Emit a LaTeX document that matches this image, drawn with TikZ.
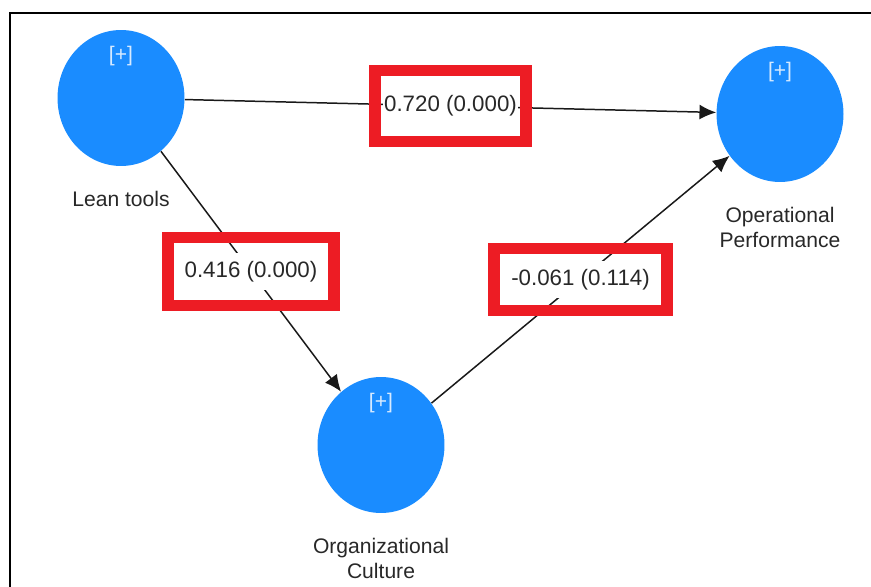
\documentclass[tikz,border=0pt]{standalone}
\usepackage{fontspec}
\setmainfont{Liberation Sans}
\usepackage{tikz}
\usetikzlibrary{shapes}
\usetikzlibrary{arrows.meta}
\usetikzlibrary{positioning}
\definecolor{lvblue}{RGB}{26,140,255}
\definecolor{boxred}{RGB}{237,28,36}
\definecolor{txtgray}{RGB}{40,40,40}
\tikzstyle{lv}=[ellipse,fill=lvblue,minimum width=2.54cm,minimum height=2.72cm,inner sep=0pt]
\tikzstyle{plus}=[text=white!82!lvblue,font=\fontsize{12}{14}\selectfont,inner sep=0pt]
\tikzstyle{lvname}=[text=txtgray,font=\fontsize{12}{14.2}\selectfont,align=center,inner sep=0pt]
\tikzstyle{coef}=[fill=white,text=txtgray,font=\fontsize{12.7}{15}\selectfont,inner xsep=0.5pt,inner ysep=4.5pt]
\tikzstyle{redbox}=[draw=boxred,line width=6.5pt,inner sep=0pt]
\tikzstyle{link}=[draw=black!90,line width=0.85pt,-{Latex[length=9.5pt,width=8.5pt]}]

\begin{document}
\begin{tikzpicture}[x=0.02cm,y=-0.02cm]
\useasboundingbox (0,0) rectangle (871,587);

%frame
\draw[line width=1.4pt] (871,13) -- (10,13) -- (10,587);

%latent variables
\node[lv] (lt) at (121,98) {};
\node[lv] (op) at (780,114) {};
\node[lv] (oc) at (381,445) {};

%[+] marks
\node[plus, below=9.5pt of lt.north] (ltplus) {[+]};
\node[plus, below=9.5pt of op.north] (opplus) {[+]};
\node[plus, below=9.5pt of oc.north] (ocplus) {[+]};

%names
\node[lvname, below=14pt of lt] (ltname) {Lean tools};
\node[lvname, below=14pt of op] (opname) {Operational\\Performance};
\node[lvname, below=14pt of oc] (ocname) {Organizational\\Culture};

%paths
\draw[link] (lt) -- node[coef] (c1) {0.720 (0.000)} (op);
\draw[link] (lt) -- node[coef] (c2) {0.416 (0.000)} (oc);
\draw[link] (oc) -- node[coef] (c3) {-0.061 (0.114)} (op);

%red boxes
\node[redbox, minimum width=3.02cm, minimum height=1.42cm] (b1) at (c1) {};
\node[redbox, minimum width=3.32cm, minimum height=1.36cm] (b2) at (c2) {};
\node[redbox, minimum width=3.46cm, minimum height=1.24cm] (b3) at (c3) {};

\end{tikzpicture}
\end{document}
